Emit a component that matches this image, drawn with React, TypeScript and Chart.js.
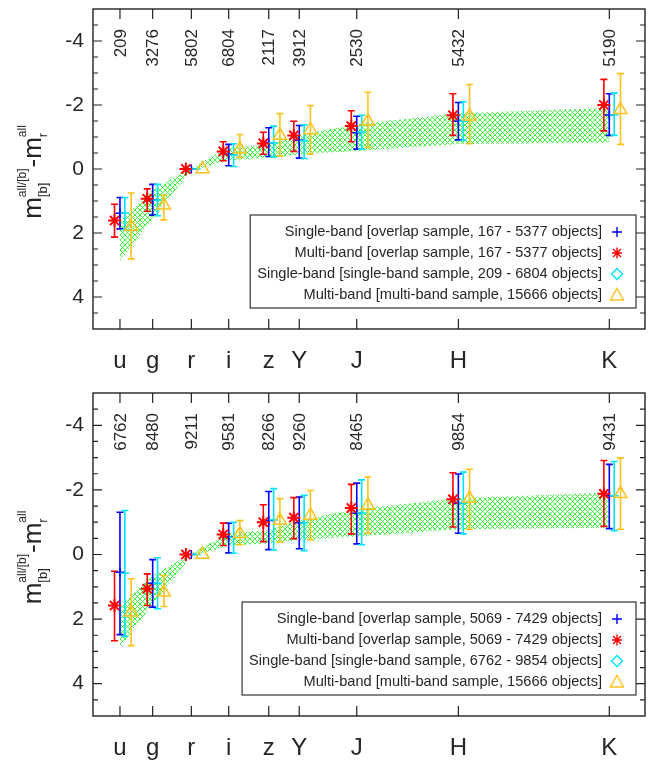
import React, { useEffect, useRef } from "react";
import { Chart, registerables } from "chart.js";

Chart.register(...registerables);

const FONT = '"Liberation Sans", Arial, Helvetica, sans-serif';
const TEXT = "#262626";
const AXIS = "#222222";

// Photometric bands and their (approximate) wavelength positions in micron
const bands = ["u", "g", "r", "i", "z", "Y", "J", "H", "K"];
const bandX = [0.355, 0.475, 0.617, 0.754, 0.901, 1.013, 1.224, 1.597, 2.151];
const yTicks = [-4, -2, 0, 2, 4];

// Object counts printed at top of each panel
const countsTop = [209, 3276, 5802, 6804, 2117, 3912, 2530, 5432, 5190];
const countsBottom = [6762, 8480, 9211, 9581, 8266, 9260, 8465, 9854, 9431];

// Model band (hatched area): bright edge and faint edge
const bandBright = [1.62, 0.65, -0.03, -0.67, -0.76, -1.06, -1.4, -1.74, -1.91];
const bandFaint = [2.86, 1.55, 0.05, -0.27, -0.35, -0.45, -0.56, -0.78, -0.83];

// ---- Top panel ----
const topSingleOverlap = [1.38, 0.96, 0, -0.46, -0.82, -0.9, -1.13, -1.49, -1.69];
const topSingleOverlapLo = [0.89, 0.48, 0, -0.77, -1.29, -1.36, -1.65, -2.08, -2.35];
const topSingleOverlapHi = [1.87, 1.44, 0, -0.1, -0.39, -0.34, -0.62, -0.91, -1.05];

const topMultiOverlap = [1.61, 0.93, 0, -0.55, -0.8, -1.05, -1.34, -1.68, -2.0];
const topMultiOverlapLo = [1.1, 0.62, 0, -0.85, -1.15, -1.49, -1.82, -2.35, -2.8];
const topMultiOverlapHi = [2.13, 1.32, 0, -0.26, -0.46, -0.55, -0.85, -1.05, -1.19];

const topSingleSample = [1.38, 0.97, 0, -0.44, -0.82, -0.88, -1.15, -1.49, -1.69];
const topSingleSampleLo = [0.89, 0.48, 0, -0.79, -1.34, -1.38, -1.68, -2.1, -2.37];
const topSingleSampleHi = [1.9, 1.46, 0, -0.08, -0.38, -0.33, -0.62, -0.89, -1.05];

const topMultiSample = [1.8, 1.13, 0, -0.62, -1.05, -1.22, -1.49, -1.65, -1.85];
const topMultiSampleLo = [0.75, 0.82, 0, -1.08, -1.73, -1.98, -2.4, -2.64, -2.98];
const topMultiSampleHi = [2.81, 1.59, 0, -0.36, -0.41, -0.46, -0.67, -0.79, -0.77];

const legendTop = [
  "Single-band [overlap sample, 167 - 5377 objects]",
  "Multi-band [overlap sample, 167 - 5377 objects]",
  "Single-band [single-band sample, 209 - 6804 objects]",
  "Multi-band [multi-band sample, 15666 objects]",
];

// ---- Bottom panel ----
const botSingleOverlap = [0.55, 0.89, 0, -0.54, -1.05, -0.98, -1.28, -1.59, -1.82];
const botSingleOverlapLo = [-1.31, 0.16, 0, -0.97, -1.95, -1.78, -2.21, -2.49, -2.79];
const botSingleOverlapHi = [2.48, 1.63, 0, -0.05, -0.15, -0.18, -0.33, -0.66, -0.8];

const botMultiOverlap = [1.58, 1.06, 0, -0.62, -1.0, -1.14, -1.44, -1.71, -1.88];
const botMultiOverlapLo = [0.52, 0.6, 0, -0.97, -1.54, -1.76, -2.17, -2.53, -2.91];
const botMultiOverlapHi = [2.67, 1.58, 0, -0.28, -0.4, -0.49, -0.64, -0.85, -0.87];

const botSingleSample = [0.58, 0.89, 0, -0.53, -1.07, -0.98, -1.28, -1.59, -1.82];
const botSingleSampleLo = [-1.36, 0.1, 0, -1.0, -2.04, -1.83, -2.31, -2.55, -2.88];
const botSingleSampleHi = [2.54, 1.68, 0, -0.04, -0.14, -0.12, -0.3, -0.64, -0.74];

const botMultiSample = [1.79, 1.17, 0, -0.64, -1.05, -1.21, -1.52, -1.73, -1.88];
const botMultiSampleLo = [0.75, 0.65, 0, -1.05, -1.73, -1.98, -2.4, -2.64, -2.99];
const botMultiSampleHi = [2.82, 1.61, 0, -0.3, -0.38, -0.46, -0.66, -0.78, -0.78];

const legendBottom = [
  "Single-band [overlap sample, 5069 - 7429 objects]",
  "Multi-band [overlap sample, 5069 - 7429 objects]",
  "Single-band [single-band sample, 6762 - 9854 objects]",
  "Multi-band [multi-band sample, 15666 objects]",
];

type Series = { vals: number[]; lo: number[]; hi: number[] };

const seriesStyles = [
  { color: "#0000ff", offset: 0, style: "cross", radius: 4.5, bw: 1.5 },
  { color: "#ff0000", offset: -0.02, style: "star", radius: 6.5, bw: 2 },
  { color: "#00e5ff", offset: 0.018, style: "line", radius: 4.5, bw: 1.5 },
  { color: "#ffc21a", offset: 0.041, style: "triangle", radius: 7.5, bw: 1.5 },
];

function makeHatch(): CanvasPattern | string {
  const c = document.createElement("canvas");
  c.width = 5;
  c.height = 5;
  const g = c.getContext("2d");
  if (!g) return "rgba(0,220,0,0.4)";
  g.strokeStyle = "#2ef02e";
  g.lineWidth = 0.9;
  g.beginPath();
  g.moveTo(0, 0);
  g.lineTo(5, 5);
  g.moveTo(5, 0);
  g.lineTo(0, 5);
  g.stroke();
  return g.createPattern(c, "repeat") || "rgba(0,220,0,0.4)";
}

function drawYTitle(ctx: CanvasRenderingContext2D, x: number, cy: number) {
  const big = `26px ${FONT}`;
  const small = `12px ${FONT}`;
  const sub = `13px ${FONT}`;
  ctx.save();
  ctx.font = big;
  const wm = ctx.measureText("m").width;
  const wdash = ctx.measureText("-").width;
  ctx.font = small;
  const wsup1 = ctx.measureText("all/[b]").width;
  const wsup2 = ctx.measureText("all").width;
  ctx.font = sub;
  const wsub1 = ctx.measureText("[b]").width;
  const wsub2 = ctx.measureText("r").width;
  const w1 = Math.max(wsup1, wsub1);
  const w2 = Math.max(wsup2, wsub2);
  const total = wm + w1 + 1 + wdash + wm + w2;
  ctx.translate(x, cy);
  ctx.rotate(-Math.PI / 2);
  ctx.fillStyle = TEXT;
  ctx.textBaseline = "alphabetic";
  ctx.textAlign = "left";
  let u = -total / 2;
  ctx.font = big;
  ctx.fillText("m", u, 0);
  u += wm;
  ctx.font = small;
  ctx.fillText("all/[b]", u, -15);
  ctx.font = sub;
  ctx.fillText("[b]", u, 6);
  u += w1 + 1;
  ctx.font = big;
  ctx.fillText("-", u, 0);
  u += wdash;
  ctx.fillText("m", u, 0);
  u += wm;
  ctx.font = small;
  ctx.fillText("all", u, -15);
  ctx.font = sub;
  ctx.fillText("r", u, 6);
  ctx.restore();
}

function drawLegendSymbol(ctx: CanvasRenderingContext2D, k: number, x: number, y: number) {
  const s = seriesStyles[k];
  ctx.save();
  ctx.strokeStyle = s.color;
  ctx.lineWidth = 1.4;
  ctx.beginPath();
  if (k === 0) {
    ctx.moveTo(x - 5, y);
    ctx.lineTo(x + 5, y);
    ctx.moveTo(x, y - 5);
    ctx.lineTo(x, y + 5);
  } else if (k === 1) {
    ctx.moveTo(x - 5, y);
    ctx.lineTo(x + 5, y);
    ctx.moveTo(x, y - 5.5);
    ctx.lineTo(x, y + 5.5);
    ctx.moveTo(x - 4, y - 4);
    ctx.lineTo(x + 4, y + 4);
    ctx.moveTo(x - 4, y + 4);
    ctx.lineTo(x + 4, y - 4);
  } else if (k === 2) {
    ctx.moveTo(x, y - 5.5);
    ctx.lineTo(x + 5.5, y);
    ctx.lineTo(x, y + 5.5);
    ctx.lineTo(x - 5.5, y);
    ctx.closePath();
  } else {
    ctx.moveTo(x, y - 6.5);
    ctx.lineTo(x + 6.5, y + 5);
    ctx.lineTo(x - 6.5, y + 5);
    ctx.closePath();
  }
  ctx.stroke();
  ctx.restore();
}

function Panel(props: {
  height: number;
  padTop: number;
  axisH: number;
  counts: number[];
  series: Series[];
  legend: string[];
}) {
  const ref = useRef<HTMLCanvasElement>(null);
  const { height, padTop, axisH, counts, series, legend } = props;

  useEffect(() => {
    const canvas = ref.current;
    if (!canvas) return;
    const hatch = makeHatch();

    const deco = {
      id: "deco",
      afterDatasetDraw(chart: any, args: any) {
        if (args.index !== 1) return;
        const { ctx } = chart;
        const xs = chart.scales.x;
        const ys = chart.scales.y;
        ctx.save();
        series.forEach((s, k) => {
          const st = seriesStyles[k];
          ctx.strokeStyle = st.color;
          ctx.lineWidth = 1.6;
          ctx.beginPath();
          bandX.forEach((bx, i) => {
            if (s.lo[i] === s.hi[i]) return;
            const px = xs.getPixelForValue(bx + st.offset);
            const p1 = ys.getPixelForValue(s.lo[i]);
            const p2 = ys.getPixelForValue(s.hi[i]);
            ctx.moveTo(px, p1);
            ctx.lineTo(px, p2);
            ctx.moveTo(px - 3.5, p1);
            ctx.lineTo(px + 3.5, p1);
            ctx.moveTo(px - 3.5, p2);
            ctx.lineTo(px + 3.5, p2);
          });
          ctx.stroke();
        });
        ctx.restore();
      },
      afterDraw(chart: any) {
        const { ctx, chartArea: a } = chart;
        const xs = chart.scales.x;
        const ys = chart.scales.y;
        ctx.save();
        // frame
        ctx.strokeStyle = AXIS;
        ctx.lineWidth = 1.4;
        ctx.strokeRect(a.left, a.top, a.right - a.left, a.bottom - a.top);
        // tick marks
        ctx.lineWidth = 1.2;
        ctx.beginPath();
        bandX.forEach((v) => {
          const p = xs.getPixelForValue(v);
          ctx.moveTo(p, a.top);
          ctx.lineTo(p, a.top + 10);
          ctx.moveTo(p, a.bottom);
          ctx.lineTo(p, a.bottom - 10);
        });
        for (let k = -9; k <= 9; k++) {
          const v = k / 2;
          const len = yTicks.includes(v) ? 9 : 5;
          const p = ys.getPixelForValue(v);
          ctx.moveTo(a.left, p);
          ctx.lineTo(a.left + len, p);
          ctx.moveTo(a.right, p);
          ctx.lineTo(a.right - len, p);
        }
        ctx.stroke();

        // counts
        ctx.fillStyle = TEXT;
        ctx.font = `17px ${FONT}`;
        ctx.textAlign = "right";
        ctx.textBaseline = "middle";
        counts.forEach((c, i) => {
          const p = xs.getPixelForValue(bandX[i]);
          ctx.save();
          ctx.translate(p + 1, a.top + 20);
          ctx.rotate(-Math.PI / 2);
          ctx.fillText(String(c), 0, 0);
          ctx.restore();
        });

        // y title
        drawYTitle(ctx, 41, (a.top + a.bottom) / 2 + 3);

        // legend
        ctx.font = `14.6px ${FONT}`;
        const boxRight = a.right - 9;
        const textRight = a.right - 43;
        const symX = a.right - 28;
        const boxBottom = a.bottom - 21;
        const boxTop = boxBottom - 93;
        const maxW = Math.max(...legend.map((t) => ctx.measureText(t).width));
        const boxLeft = textRight - maxW - 7;
        ctx.fillStyle = "#ffffff";
        ctx.fillRect(boxLeft, boxTop, boxRight - boxLeft, boxBottom - boxTop);
        ctx.strokeStyle = AXIS;
        ctx.lineWidth = 1.1;
        ctx.strokeRect(boxLeft, boxTop, boxRight - boxLeft, boxBottom - boxTop);
        ctx.fillStyle = TEXT;
        ctx.textAlign = "right";
        ctx.textBaseline = "middle";
        legend.forEach((t, i) => {
          const y = boxTop + 17 + i * 21;
          ctx.fillText(t, textRight, y);
          drawLegendSymbol(ctx, i, symX, y);
        });
        ctx.restore();
      },
    };

    const pts = (vals: number[], off: number) => vals.map((v, i) => ({ x: bandX[i] + off, y: v }));

    const datasets: any[] = [
      {
        type: "line",
        data: bandX.map((x, i) => ({ x, y: bandFaint[i] })),
        borderColor: "rgba(0,0,0,0)",
        borderWidth: 0,
        pointRadius: 0,
        fill: false,
        tension: 0,
        order: 10,
      },
      {
        type: "line",
        data: bandX.map((x, i) => ({ x, y: bandBright[i] })),
        borderColor: "rgba(0,0,0,0)",
        borderWidth: 0,
        pointRadius: 0,
        fill: "-1",
        backgroundColor: hatch,
        tension: 0,
        order: 9,
      },
      ...series.map((s, k) => ({
        type: "scatter",
        data: pts(s.vals, seriesStyles[k].offset),
        pointStyle: seriesStyles[k].style,
        pointRadius: seriesStyles[k].radius,
        borderColor: seriesStyles[k].color,
        backgroundColor: "rgba(0,0,0,0)",
        borderWidth: seriesStyles[k].bw,
        order: 4 - k,
      })),
    ];

    const chart = new Chart(canvas, {
      type: "scatter",
      data: { datasets },
      options: {
        animation: false,
        responsive: false,
        maintainAspectRatio: false,
        layout: { padding: { top: padTop, right: 11, left: 0, bottom: 0 } },
        plugins: { legend: { display: false }, tooltip: { enabled: false } },
        scales: {
          x: {
            type: "linear",
            min: 0.256,
            max: 2.282,
            grid: { display: false, drawTicks: false },
            border: { display: false },
            ticks: {
              autoSkip: false,
              maxRotation: 0,
              padding: 18,
              color: TEXT,
              font: { family: FONT, size: 24 },
              callback: (_v: any, i: number) => bands[i],
            },
            afterBuildTicks: (s: any) => {
              s.ticks = bandX.map((v) => ({ value: v }));
            },
            afterFit: (s: any) => {
              s.height = axisH;
              s.paddingLeft = 0;
              s.paddingRight = 0;
            },
          },
          y: {
            type: "linear",
            min: -5,
            max: 5,
            reverse: true,
            grid: { display: false, drawTicks: false },
            border: { display: false },
            ticks: {
              padding: 9,
              color: TEXT,
              font: { family: FONT, size: 21 },
              callback: (v: any) => String(v),
            },
            afterBuildTicks: (s: any) => {
              s.ticks = yTicks.map((v) => ({ value: v }));
            },
            afterFit: (s: any) => {
              s.width = 93;
              s.paddingTop = 0;
              s.paddingBottom = 0;
            },
          },
        },
      } as any,
      plugins: [deco],
    });
    return () => chart.destroy();
  }, []);

  return <canvas ref={ref} width={656} height={height} style={{ display: "block" }} />;
}

export default function App() {
  const topSeries: Series[] = [
    { vals: topSingleOverlap, lo: topSingleOverlapLo, hi: topSingleOverlapHi },
    { vals: topMultiOverlap, lo: topMultiOverlapLo, hi: topMultiOverlapHi },
    { vals: topSingleSample, lo: topSingleSampleLo, hi: topSingleSampleHi },
    { vals: topMultiSample, lo: topMultiSampleLo, hi: topMultiSampleHi },
  ];
  const bottomSeries: Series[] = [
    { vals: botSingleOverlap, lo: botSingleOverlapLo, hi: botSingleOverlapHi },
    { vals: botMultiOverlap, lo: botMultiOverlapLo, hi: botMultiOverlapHi },
    { vals: botSingleSample, lo: botSingleSampleLo, hi: botSingleSampleHi },
    { vals: botMultiSample, lo: botMultiSampleLo, hi: botMultiSampleHi },
  ];
  return (
    <div style={{ position: "absolute", left: 0, top: 0, width: 656, height: 767, background: "#fff" }}>
      <Panel height={384} padTop={5} axisH={55} counts={countsTop} series={topSeries} legend={legendTop} />
      <Panel height={383} padTop={9} axisH={51} counts={countsBottom} series={bottomSeries} legend={legendBottom} />
    </div>
  );
}
